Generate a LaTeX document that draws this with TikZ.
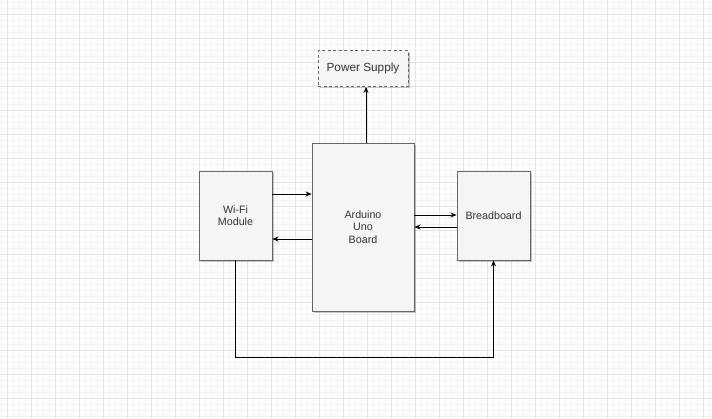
\documentclass[tikz,border=0pt]{standalone}
\usepackage{fontspec}
\setmainfont{Liberation Sans}
\usetikzlibrary{shadows,arrows.meta}
\definecolor{boxfill}{HTML}{F5F5F5}
\definecolor{boxline}{HTML}{666666}
\definecolor{txt}{HTML}{333333}
\definecolor{gridminor}{HTML}{F2F2F2}
\definecolor{gridmajor}{HTML}{E4E4E4}
\tikzset{
  block/.style={rectangle, draw=boxline, fill=boxfill, line width=0.9pt, text=txt,
    align=center, inner sep=0pt, font=\fontsize{10.7}{12.3}\selectfont,
    drop shadow={shadow xshift=1.6pt, shadow yshift=-1.6pt, opacity=0.45, fill=gray}},
  arr/.style={line width=0.9pt, draw=black, -{Stealth[length=6pt,width=5pt]}},
}
\begin{document}
\begin{tikzpicture}[x=1pt,y=-1pt]
\useasboundingbox (0,0) rectangle (712,418);
\fill[white] (0,0) rectangle (712,418);
\foreach \i in {1,7,...,712} \draw[gridminor,line width=0.8pt] (\i,0) -- (\i,418);
\foreach \j in {2,8,...,418} \draw[gridminor,line width=0.8pt] (0,\j) -- (712,\j);
\foreach \i in {7,31,...,712} \draw[gridmajor,line width=0.8pt] (\i,0) -- (\i,418);
\foreach \j in {14,38,...,418} \draw[gridmajor,line width=0.8pt] (0,\j) -- (712,\j);

\node[block, dashed, dash pattern=on 3pt off 2.5pt, minimum width=90pt, minimum height=36pt,
  font=\fontsize{11.8}{13}\selectfont] (ps) at (363,68.5) {Power Supply};
\node[block, minimum width=73pt, minimum height=89pt] (wifi) at (235.5,215.5) {Wi-Fi\\Module};
\node[block, minimum width=102pt, minimum height=168pt] (ard) at (363,227) {Arduino\\Uno\\Board};
\node[block, minimum width=73pt, minimum height=89pt] (bb) at (493.5,215.5) {Breadboard};

\coordinate (a1) at ([xshift=3pt]ard.north);
\draw[arr] (a1) -- (a1 |- ps.south);
\coordinate (w1) at ([yshift=21.5pt]wifi.east);
\draw[arr] (w1) -- (w1 -| ard.west);
\coordinate (w2) at ([yshift=-23.5pt]wifi.east);
\draw[arr] (w2 -| ard.west) -- (w2);
\coordinate (b1) at ([yshift=0.5pt]bb.west);
\draw[arr] (b1 -| ard.east) -- (b1);
\coordinate (b2) at ([yshift=-11.5pt]bb.west);
\draw[arr] (b2) -- (b2 -| ard.east);
\draw[arr] (wifi.south) -- ++(0,97) -| (bb.south);
\end{tikzpicture}
\end{document}
